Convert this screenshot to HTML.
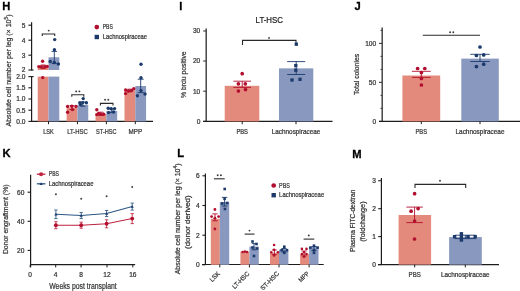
<!DOCTYPE html>
<html><head><meta charset="utf-8"><title>Figure</title>
<style>html,body{margin:0;padding:0;background:#fff;width:520px;height:291px;overflow:hidden}svg{display:block;will-change:transform;filter:blur(0.3px)}text{font-family:"Liberation Sans", sans-serif}</style>
</head><body>
<svg width="520" height="291" viewBox="0 0 520 291" font-family='"Liberation Sans", sans-serif'><text x="2.3" y="10" font-size="11.2" text-anchor="start" fill="#000" font-weight="bold" stroke="#000" stroke-width="0.3">H</text>
<line x1="31.6" y1="22.2" x2="31.6" y2="70.4" stroke="#1c1c1c" stroke-width="1.2"/>
<line x1="28.4" y1="25.2" x2="31.6" y2="25.2" stroke="#1c1c1c" stroke-width="1.1"/>
<text x="25.4" y="27.5" font-size="6.6" text-anchor="end" fill="#333" font-weight="normal" stroke="#333" stroke-width="0.22">5</text>
<line x1="28.4" y1="40.2" x2="31.6" y2="40.2" stroke="#1c1c1c" stroke-width="1.1"/>
<text x="25.4" y="42.5" font-size="6.6" text-anchor="end" fill="#333" font-weight="normal" stroke="#333" stroke-width="0.22">4</text>
<line x1="28.4" y1="55.2" x2="31.6" y2="55.2" stroke="#1c1c1c" stroke-width="1.1"/>
<text x="25.4" y="57.5" font-size="6.6" text-anchor="end" fill="#333" font-weight="normal" stroke="#333" stroke-width="0.22">3</text>
<line x1="28.4" y1="70" x2="31.6" y2="70" stroke="#1c1c1c" stroke-width="1.1"/>
<text x="25.4" y="72.3" font-size="6.6" text-anchor="end" fill="#333" font-weight="normal" stroke="#333" stroke-width="0.22">2</text>
<line x1="31.6" y1="70" x2="33.6" y2="70" stroke="#1c1c1c" stroke-width="1.1"/>
<line x1="31.6" y1="76.2" x2="31.6" y2="122.0" stroke="#1c1c1c" stroke-width="1.2"/>
<line x1="31.6" y1="76.6" x2="33.6" y2="76.6" stroke="#1c1c1c" stroke-width="1.1"/>
<line x1="28.4" y1="76.6" x2="31.6" y2="76.6" stroke="#1c1c1c" stroke-width="1.1"/>
<text x="25.4" y="78.89999999999999" font-size="6.6" text-anchor="end" fill="#333" font-weight="normal" stroke="#333" stroke-width="0.22">2.0</text>
<line x1="28.4" y1="87.8" x2="31.6" y2="87.8" stroke="#1c1c1c" stroke-width="1.1"/>
<text x="25.4" y="90.1" font-size="6.6" text-anchor="end" fill="#333" font-weight="normal" stroke="#333" stroke-width="0.22">1.5</text>
<line x1="28.4" y1="99.0" x2="31.6" y2="99.0" stroke="#1c1c1c" stroke-width="1.1"/>
<text x="25.4" y="101.3" font-size="6.6" text-anchor="end" fill="#333" font-weight="normal" stroke="#333" stroke-width="0.22">1.0</text>
<line x1="28.4" y1="110.2" x2="31.6" y2="110.2" stroke="#1c1c1c" stroke-width="1.1"/>
<text x="25.4" y="112.5" font-size="6.6" text-anchor="end" fill="#333" font-weight="normal" stroke="#333" stroke-width="0.22">0.5</text>
<line x1="28.4" y1="121.4" x2="31.6" y2="121.4" stroke="#1c1c1c" stroke-width="1.1"/>
<text x="25.4" y="123.7" font-size="6.6" text-anchor="end" fill="#333" font-weight="normal" stroke="#333" stroke-width="0.22">0.0</text>
<line x1="31.0" y1="121.4" x2="153" y2="121.4" stroke="#1c1c1c" stroke-width="1.2"/>
<text x="10.6" y="70.5" font-size="7.4" text-anchor="middle" fill="#333" font-weight="normal" stroke="#333" stroke-width="0.22" textLength="112" lengthAdjust="spacingAndGlyphs" transform="rotate(-90 10.6 70.5)">Absolute cell number per leg (× 10<tspan dy="-2.6" font-size="5.2">5</tspan><tspan dy="2.6">)</tspan></text>
<rect x="37.7" y="76.6" width="10.8" height="44.80000000000001" fill="#E48A7C"/>
<rect x="48.5" y="76.6" width="10.8" height="44.80000000000001" fill="#8998BE"/>
<rect x="37.7" y="67.0" width="10.8" height="3.0" fill="#E48A7C"/>
<rect x="48.5" y="57.25" width="10.8" height="12.75" fill="#8998BE"/>
<rect x="66.63000000000001" y="107.512" width="10.8" height="13.888000000000005" fill="#E48A7C"/>
<rect x="77.43" y="104.82400000000001" width="10.8" height="16.575999999999993" fill="#8998BE"/>
<rect x="95.56" y="113.784" width="10.8" height="7.616" fill="#E48A7C"/>
<rect x="106.36" y="110.87200000000001" width="10.8" height="10.527999999999992" fill="#8998BE"/>
<rect x="124.49" y="90.48800000000001" width="10.8" height="30.911999999999992" fill="#E48A7C"/>
<rect x="135.29" y="86.00800000000001" width="10.8" height="35.391999999999996" fill="#8998BE"/>
<line x1="48.5" y1="121.4" x2="48.5" y2="124.2" stroke="#1c1c1c" stroke-width="1.0"/>
<text x="48.5" y="133.7" font-size="6.7" text-anchor="middle" fill="#333" font-weight="normal" stroke="#333" stroke-width="0.22" textLength="10.5" lengthAdjust="spacingAndGlyphs">LSK</text>
<line x1="77.43" y1="121.4" x2="77.43" y2="124.2" stroke="#1c1c1c" stroke-width="1.0"/>
<text x="77.43" y="133.7" font-size="6.7" text-anchor="middle" fill="#333" font-weight="normal" stroke="#333" stroke-width="0.22" textLength="20.6" lengthAdjust="spacingAndGlyphs">LT-HSC</text>
<line x1="106.36" y1="121.4" x2="106.36" y2="124.2" stroke="#1c1c1c" stroke-width="1.0"/>
<text x="106.36" y="133.7" font-size="6.7" text-anchor="middle" fill="#333" font-weight="normal" stroke="#333" stroke-width="0.22" textLength="20.6" lengthAdjust="spacingAndGlyphs">ST-HSC</text>
<line x1="135.29" y1="121.4" x2="135.29" y2="124.2" stroke="#1c1c1c" stroke-width="1.0"/>
<text x="135.29" y="133.7" font-size="6.7" text-anchor="middle" fill="#333" font-weight="normal" stroke="#333" stroke-width="0.22" textLength="13.6" lengthAdjust="spacingAndGlyphs">MPP</text>
<circle cx="38.9" cy="66.6" r="1.7" fill="#B20F2E"/>
<circle cx="41.3" cy="66.8" r="1.7" fill="#B20F2E"/>
<circle cx="45.0" cy="66.6" r="1.7" fill="#B20F2E"/>
<circle cx="47.2" cy="66.4" r="1.7" fill="#B20F2E"/>
<circle cx="42.6" cy="61.2" r="1.7" fill="#B20F2E"/>
<circle cx="42.7" cy="77.6" r="1.7" fill="#B20F2E"/>
<line x1="43.2" y1="65.0" x2="43.2" y2="68.6" stroke="#B20F2E" stroke-width="0.9"/>
<line x1="40.7" y1="65.0" x2="45.7" y2="65.0" stroke="#B20F2E" stroke-width="0.9"/>
<line x1="40.7" y1="68.6" x2="45.7" y2="68.6" stroke="#B20F2E" stroke-width="0.9"/>
<line x1="54.3" y1="51.4" x2="54.3" y2="63.6" stroke="#1B3A6B" stroke-width="0.9"/>
<line x1="51.55" y1="51.4" x2="57.05" y2="51.4" stroke="#1B3A6B" stroke-width="0.9"/>
<line x1="51.55" y1="63.6" x2="57.05" y2="63.6" stroke="#1B3A6B" stroke-width="0.9"/>
<circle cx="54.7" cy="39.6" r="1.7" fill="#1B3A6B"/>
<circle cx="54.4" cy="49.8" r="1.7" fill="#1B3A6B"/>
<circle cx="50.2" cy="61.5" r="1.7" fill="#1B3A6B"/>
<circle cx="58.4" cy="64.0" r="1.7" fill="#1B3A6B"/>
<circle cx="54.3" cy="62.5" r="1.7" fill="#1B3A6B"/>
<circle cx="67.6" cy="106.4" r="1.7" fill="#B20F2E"/>
<circle cx="71.8" cy="106.2" r="1.7" fill="#B20F2E"/>
<circle cx="76.0" cy="106.4" r="1.7" fill="#B20F2E"/>
<circle cx="67.6" cy="112.2" r="1.7" fill="#B20F2E"/>
<circle cx="72.5" cy="109.6" r="1.7" fill="#B20F2E"/>
<line x1="72.03" y1="105.6" x2="72.03" y2="109.6" stroke="#B20F2E" stroke-width="0.9"/>
<line x1="69.53" y1="105.6" x2="74.53" y2="105.6" stroke="#B20F2E" stroke-width="0.9"/>
<line x1="69.53" y1="109.6" x2="74.53" y2="109.6" stroke="#B20F2E" stroke-width="0.9"/>
<circle cx="83.2" cy="98.6" r="1.7" fill="#1B3A6B"/>
<circle cx="79.8" cy="102.8" r="1.7" fill="#1B3A6B"/>
<circle cx="82.8" cy="102.6" r="1.7" fill="#1B3A6B"/>
<circle cx="86.4" cy="102.8" r="1.7" fill="#1B3A6B"/>
<circle cx="80.5" cy="104.6" r="1.7" fill="#1B3A6B"/>
<line x1="82.83000000000001" y1="102.0" x2="82.83000000000001" y2="106.2" stroke="#1B3A6B" stroke-width="0.9"/>
<line x1="80.33000000000001" y1="102.0" x2="85.33000000000001" y2="102.0" stroke="#1B3A6B" stroke-width="0.9"/>
<line x1="80.33000000000001" y1="106.2" x2="85.33000000000001" y2="106.2" stroke="#1B3A6B" stroke-width="0.9"/>
<circle cx="96.8" cy="109.8" r="1.7" fill="#B20F2E"/>
<circle cx="96.8" cy="114.6" r="1.7" fill="#B20F2E"/>
<circle cx="100.4" cy="114.2" r="1.7" fill="#B20F2E"/>
<circle cx="103.6" cy="114.2" r="1.7" fill="#B20F2E"/>
<circle cx="98.5" cy="113.5" r="1.7" fill="#B20F2E"/>
<line x1="100.96" y1="112.2" x2="100.96" y2="115.4" stroke="#B20F2E" stroke-width="0.9"/>
<line x1="98.46" y1="112.2" x2="103.46" y2="112.2" stroke="#B20F2E" stroke-width="0.9"/>
<line x1="98.46" y1="115.4" x2="103.46" y2="115.4" stroke="#B20F2E" stroke-width="0.9"/>
<circle cx="108.2" cy="108.2" r="1.7" fill="#1B3A6B"/>
<circle cx="111.2" cy="108.8" r="1.7" fill="#1B3A6B"/>
<circle cx="114.6" cy="108.6" r="1.7" fill="#1B3A6B"/>
<circle cx="108.6" cy="112.6" r="1.7" fill="#1B3A6B"/>
<circle cx="113.6" cy="112.0" r="1.7" fill="#1B3A6B"/>
<line x1="111.76" y1="109.0" x2="111.76" y2="112.6" stroke="#1B3A6B" stroke-width="0.9"/>
<line x1="109.26" y1="109.0" x2="114.26" y2="109.0" stroke="#1B3A6B" stroke-width="0.9"/>
<line x1="109.26" y1="112.6" x2="114.26" y2="112.6" stroke="#1B3A6B" stroke-width="0.9"/>
<circle cx="125.6" cy="90.0" r="1.7" fill="#B20F2E"/>
<circle cx="128.4" cy="91.0" r="1.7" fill="#B20F2E"/>
<circle cx="131.6" cy="90.4" r="1.7" fill="#B20F2E"/>
<circle cx="133.8" cy="88.8" r="1.7" fill="#B20F2E"/>
<circle cx="125.6" cy="93.6" r="1.7" fill="#B20F2E"/>
<line x1="129.89" y1="89.2" x2="129.89" y2="91.8" stroke="#B20F2E" stroke-width="0.9"/>
<line x1="127.38999999999999" y1="89.2" x2="132.39" y2="89.2" stroke="#B20F2E" stroke-width="0.9"/>
<line x1="127.38999999999999" y1="91.8" x2="132.39" y2="91.8" stroke="#B20F2E" stroke-width="0.9"/>
<circle cx="141.0" cy="64.2" r="1.7" fill="#1B3A6B"/>
<circle cx="141.0" cy="77.8" r="1.7" fill="#1B3A6B"/>
<circle cx="137.4" cy="95.8" r="1.7" fill="#1B3A6B"/>
<circle cx="145.0" cy="94.0" r="1.7" fill="#1B3A6B"/>
<circle cx="141.0" cy="90.6" r="1.7" fill="#1B3A6B"/>
<line x1="140.69" y1="79.2" x2="140.69" y2="92.6" stroke="#1B3A6B" stroke-width="0.9"/>
<line x1="137.69" y1="79.2" x2="143.69" y2="79.2" stroke="#1B3A6B" stroke-width="0.9"/>
<line x1="137.69" y1="92.6" x2="143.69" y2="92.6" stroke="#1B3A6B" stroke-width="0.9"/>
<path d="M42.3 36.0 V34.0 H54.7 V36.0" fill="none" stroke="#2a2a2a" stroke-width="1.1"/>
<circle cx="48.7" cy="30.6" r="0.95" fill="#3a3a3a"/>
<path d="M71.8 96.7 V94.7 H83.8 V96.7" fill="none" stroke="#2a2a2a" stroke-width="1.1"/>
<circle cx="76.2" cy="91.4" r="0.95" fill="#3a3a3a"/>
<circle cx="79.39999999999999" cy="91.4" r="0.95" fill="#3a3a3a"/>
<path d="M100.4 105.4 V103.4 H113.0 V105.4" fill="none" stroke="#2a2a2a" stroke-width="1.1"/>
<circle cx="105.10000000000001" cy="99.8" r="0.95" fill="#3a3a3a"/>
<circle cx="108.3" cy="99.8" r="0.95" fill="#3a3a3a"/>
<circle cx="96.8" cy="27.1" r="2.35" fill="#B20F2E"/>
<text x="102.7" y="29.3" font-size="6.6" text-anchor="start" fill="#333" font-weight="normal" stroke="#333" stroke-width="0.22" textLength="10.1" lengthAdjust="spacingAndGlyphs">PBS</text>
<rect x="94.6" y="34.8" width="4.4" height="4.4" fill="#1B3A6B"/>
<text x="102.8" y="39.1" font-size="6.6" text-anchor="start" fill="#333" font-weight="normal" stroke="#333" stroke-width="0.22" textLength="44.3" lengthAdjust="spacingAndGlyphs">Lachnospiraceae</text>
<text x="179.2" y="10" font-size="11.2" text-anchor="start" fill="#000" font-weight="bold" stroke="#000" stroke-width="0.3">I</text>
<line x1="206.2" y1="28.6" x2="206.2" y2="121.4" stroke="#3a3a3a" stroke-width="1.4"/>
<line x1="203.2" y1="31" x2="206.2" y2="31" stroke="#3a3a3a" stroke-width="1.1"/>
<text x="200.3" y="33.3" font-size="6.6" text-anchor="end" fill="#333" font-weight="normal" stroke="#333" stroke-width="0.22">30</text>
<line x1="203.2" y1="61" x2="206.2" y2="61" stroke="#3a3a3a" stroke-width="1.1"/>
<text x="200.3" y="63.3" font-size="6.6" text-anchor="end" fill="#333" font-weight="normal" stroke="#333" stroke-width="0.22">20</text>
<line x1="203.2" y1="91.2" x2="206.2" y2="91.2" stroke="#3a3a3a" stroke-width="1.1"/>
<text x="200.3" y="93.5" font-size="6.6" text-anchor="end" fill="#333" font-weight="normal" stroke="#333" stroke-width="0.22">10</text>
<line x1="203.2" y1="121.4" x2="206.2" y2="121.4" stroke="#3a3a3a" stroke-width="1.1"/>
<text x="200.3" y="123.7" font-size="6.6" text-anchor="end" fill="#333" font-weight="normal" stroke="#333" stroke-width="0.22">0</text>
<line x1="203.1" y1="121.3" x2="332.5" y2="121.3" stroke="#1c1c1c" stroke-width="1.2"/>
<text x="186.2" y="74.7" font-size="6.9" text-anchor="middle" fill="#333" font-weight="normal" stroke="#333" stroke-width="0.22" textLength="46.7" lengthAdjust="spacingAndGlyphs" transform="rotate(-90 186.2 74.7)">% brdu positive</text>
<text x="269.3" y="23.1" font-size="8.4" text-anchor="middle" fill="#222" font-weight="normal" stroke="#222" stroke-width="0.22" textLength="27.4" lengthAdjust="spacingAndGlyphs">LT-HSC</text>
<rect x="224.7" y="85.8" width="34.6" height="35.60000000000001" fill="#E48A7C"/>
<rect x="279" y="68.3712" width="34.3" height="53.028800000000004" fill="#8998BE"/>
<line x1="242.2" y1="121.3" x2="242.2" y2="124.2" stroke="#1c1c1c" stroke-width="1.0"/>
<text x="242.2" y="133.5" font-size="6.7" text-anchor="middle" fill="#333" font-weight="normal" stroke="#333" stroke-width="0.22" textLength="11.6" lengthAdjust="spacingAndGlyphs">PBS</text>
<line x1="296.0" y1="121.3" x2="296.0" y2="124.2" stroke="#1c1c1c" stroke-width="1.0"/>
<text x="296.0" y="133.5" font-size="6.7" text-anchor="middle" fill="#333" font-weight="normal" stroke="#333" stroke-width="0.22" textLength="48.5" lengthAdjust="spacingAndGlyphs">Lachnospiraceae</text>
<path d="M242.5 44.9 V40.4 H296.0 V44.9" fill="none" stroke="#2a2a2a" stroke-width="1.1"/>
<circle cx="269" cy="37.9" r="0.95" fill="#3a3a3a"/>
<line x1="242.2" y1="81.2" x2="242.2" y2="87.4" stroke="#B20F2E" stroke-width="0.9"/>
<line x1="233.39999999999998" y1="81.2" x2="251.0" y2="81.2" stroke="#B20F2E" stroke-width="0.9"/>
<line x1="233.39999999999998" y1="87.4" x2="251.0" y2="87.4" stroke="#B20F2E" stroke-width="0.9"/>
<circle cx="242.2" cy="73.7" r="1.85" fill="#B20F2E"/>
<circle cx="238.4" cy="83.8" r="1.85" fill="#B20F2E"/>
<circle cx="245.3" cy="83.8" r="1.85" fill="#B20F2E"/>
<circle cx="238.4" cy="91.0" r="1.85" fill="#B20F2E"/>
<circle cx="245.5" cy="89.6" r="1.85" fill="#B20F2E"/>
<line x1="296.2" y1="61.6" x2="296.2" y2="74.5" stroke="#1B3A6B" stroke-width="0.9"/>
<line x1="287.2" y1="61.6" x2="305.2" y2="61.6" stroke="#1B3A6B" stroke-width="0.9"/>
<line x1="287.2" y1="74.5" x2="305.2" y2="74.5" stroke="#1B3A6B" stroke-width="0.9"/>
<rect x="294.65000000000003" y="42.550000000000004" width="3.3" height="3.3" fill="#1B3A6B"/>
<rect x="294.15000000000003" y="63.949999999999996" width="3.3" height="3.3" fill="#1B3A6B"/>
<rect x="294.15000000000003" y="68.55" width="3.3" height="3.3" fill="#1B3A6B"/>
<rect x="290.35" y="78.35" width="3.3" height="3.3" fill="#1B3A6B"/>
<rect x="298.35" y="77.64999999999999" width="3.3" height="3.3" fill="#1B3A6B"/>
<text x="354.6" y="10.2" font-size="11.2" text-anchor="start" fill="#000" font-weight="bold" stroke="#000" stroke-width="0.3">J</text>
<line x1="382.2" y1="27.4" x2="382.2" y2="121.4" stroke="#3a3a3a" stroke-width="1.4"/>
<line x1="379.0" y1="121.4" x2="382.2" y2="121.4" stroke="#3a3a3a" stroke-width="1.1"/>
<line x1="380.6" y1="108.4" x2="382.2" y2="108.4" stroke="#3a3a3a" stroke-width="1.1"/>
<line x1="380.6" y1="95.4" x2="382.2" y2="95.4" stroke="#3a3a3a" stroke-width="1.1"/>
<line x1="379.0" y1="82.4" x2="382.2" y2="82.4" stroke="#3a3a3a" stroke-width="1.1"/>
<line x1="380.6" y1="69.4" x2="382.2" y2="69.4" stroke="#3a3a3a" stroke-width="1.1"/>
<line x1="380.6" y1="56.400000000000006" x2="382.2" y2="56.400000000000006" stroke="#3a3a3a" stroke-width="1.1"/>
<line x1="379.0" y1="43.400000000000006" x2="382.2" y2="43.400000000000006" stroke="#3a3a3a" stroke-width="1.1"/>
<line x1="380.6" y1="30.400000000000006" x2="382.2" y2="30.400000000000006" stroke="#3a3a3a" stroke-width="1.1"/>
<text x="376.2" y="45.5" font-size="6.6" text-anchor="end" fill="#333" font-weight="normal" stroke="#333" stroke-width="0.22">100</text>
<text x="376.2" y="84.6" font-size="6.6" text-anchor="end" fill="#333" font-weight="normal" stroke="#333" stroke-width="0.22">50</text>
<text x="376.2" y="123.7" font-size="6.6" text-anchor="end" fill="#333" font-weight="normal" stroke="#333" stroke-width="0.22">0</text>
<line x1="379" y1="121.4" x2="520" y2="121.4" stroke="#1c1c1c" stroke-width="1.2"/>
<text x="359.3" y="74.5" font-size="7.0" text-anchor="middle" fill="#333" font-weight="normal" stroke="#333" stroke-width="0.22" textLength="41.2" lengthAdjust="spacingAndGlyphs" transform="rotate(-90 359.3 74.5)">Total colonies</text>
<rect x="402.4" y="75.5" width="37.8" height="45.900000000000006" fill="#E48A7C"/>
<rect x="461.3" y="58.6" width="37.5" height="62.800000000000004" fill="#8998BE"/>
<line x1="421.3" y1="121.4" x2="421.3" y2="124.1" stroke="#1c1c1c" stroke-width="1.0"/>
<text x="421.3" y="133.8" font-size="6.7" text-anchor="middle" fill="#333" font-weight="normal" stroke="#333" stroke-width="0.22" textLength="11.6" lengthAdjust="spacingAndGlyphs">PBS</text>
<line x1="480.0" y1="121.4" x2="480.0" y2="124.1" stroke="#1c1c1c" stroke-width="1.0"/>
<text x="480.0" y="133.8" font-size="6.7" text-anchor="middle" fill="#333" font-weight="normal" stroke="#333" stroke-width="0.22" textLength="49" lengthAdjust="spacingAndGlyphs">Lachnospiraceae</text>
<line x1="422.8" y1="35.3" x2="480" y2="35.3" stroke="#2a2a2a" stroke-width="1.1"/>
<circle cx="450.09999999999997" cy="32.2" r="0.95" fill="#3a3a3a"/>
<circle cx="453.3" cy="32.2" r="0.95" fill="#3a3a3a"/>
<line x1="421.3" y1="71.3" x2="421.3" y2="77.4" stroke="#B20F2E" stroke-width="0.9"/>
<line x1="411.90000000000003" y1="71.3" x2="430.7" y2="71.3" stroke="#B20F2E" stroke-width="0.9"/>
<line x1="411.90000000000003" y1="77.4" x2="430.7" y2="77.4" stroke="#B20F2E" stroke-width="0.9"/>
<circle cx="417.6" cy="68.5" r="1.85" fill="#B20F2E"/>
<circle cx="424.8" cy="68.5" r="1.85" fill="#B20F2E"/>
<circle cx="421.4" cy="72.6" r="1.85" fill="#B20F2E"/>
<circle cx="421.4" cy="78.4" r="1.85" fill="#B20F2E"/>
<circle cx="421.4" cy="85.0" r="1.85" fill="#B20F2E"/>
<line x1="480" y1="54.3" x2="480" y2="61.5" stroke="#1B3A6B" stroke-width="0.9"/>
<line x1="470.25" y1="54.3" x2="489.75" y2="54.3" stroke="#1B3A6B" stroke-width="0.9"/>
<line x1="470.25" y1="61.5" x2="489.75" y2="61.5" stroke="#1B3A6B" stroke-width="0.9"/>
<circle cx="480" cy="47" r="1.85" fill="#1B3A6B"/>
<circle cx="476.4" cy="55.5" r="1.85" fill="#1B3A6B"/>
<circle cx="483.7" cy="54.9" r="1.85" fill="#1B3A6B"/>
<circle cx="476.4" cy="66.6" r="1.85" fill="#1B3A6B"/>
<circle cx="483.7" cy="64.2" r="1.85" fill="#1B3A6B"/>
<text x="2.4" y="157.2" font-size="11.2" text-anchor="start" fill="#000" font-weight="bold" stroke="#000" stroke-width="0.3">K</text>
<line x1="30.6" y1="174.8" x2="30.6" y2="267.2" stroke="#1c1c1c" stroke-width="1.2"/>
<line x1="27.6" y1="192.2" x2="30.6" y2="192.2" stroke="#1c1c1c" stroke-width="1.1"/>
<text x="24.4" y="194.5" font-size="6.6" text-anchor="end" fill="#333" font-weight="normal" stroke="#333" stroke-width="0.22">60</text>
<line x1="27.6" y1="221.3" x2="30.6" y2="221.3" stroke="#1c1c1c" stroke-width="1.1"/>
<text x="24.4" y="223.60000000000002" font-size="6.6" text-anchor="end" fill="#333" font-weight="normal" stroke="#333" stroke-width="0.22">40</text>
<line x1="27.6" y1="250.4" x2="30.6" y2="250.4" stroke="#1c1c1c" stroke-width="1.1"/>
<text x="24.4" y="252.70000000000002" font-size="6.6" text-anchor="end" fill="#333" font-weight="normal" stroke="#333" stroke-width="0.22">20</text>
<line x1="30.0" y1="264.7" x2="135.1" y2="264.7" stroke="#1c1c1c" stroke-width="1.2"/>
<line x1="30.2" y1="264.7" x2="30.2" y2="267.4" stroke="#1c1c1c" stroke-width="1.0"/>
<text x="30.2" y="277.0" font-size="6.6" text-anchor="middle" fill="#333" font-weight="normal" stroke="#333" stroke-width="0.22">0</text>
<line x1="55.7" y1="264.7" x2="55.7" y2="267.4" stroke="#1c1c1c" stroke-width="1.0"/>
<text x="55.7" y="277.0" font-size="6.6" text-anchor="middle" fill="#333" font-weight="normal" stroke="#333" stroke-width="0.22">4</text>
<line x1="81.1" y1="264.7" x2="81.1" y2="267.4" stroke="#1c1c1c" stroke-width="1.0"/>
<text x="81.1" y="277.0" font-size="6.6" text-anchor="middle" fill="#333" font-weight="normal" stroke="#333" stroke-width="0.22">8</text>
<line x1="107" y1="264.7" x2="107" y2="267.4" stroke="#1c1c1c" stroke-width="1.0"/>
<text x="107" y="277.0" font-size="6.6" text-anchor="middle" fill="#333" font-weight="normal" stroke="#333" stroke-width="0.22">12</text>
<line x1="132.8" y1="264.7" x2="132.8" y2="267.4" stroke="#1c1c1c" stroke-width="1.0"/>
<text x="132.8" y="277.0" font-size="6.6" text-anchor="middle" fill="#333" font-weight="normal" stroke="#333" stroke-width="0.22">16</text>
<text x="83" y="288.7" font-size="8.5" text-anchor="middle" fill="#333" font-weight="normal" stroke="#333" stroke-width="0.22" textLength="67.5" lengthAdjust="spacingAndGlyphs">Weeks post transplant</text>
<text x="8.5" y="219.3" font-size="7.2" text-anchor="middle" fill="#333" font-weight="normal" stroke="#333" stroke-width="0.22" textLength="69.6" lengthAdjust="spacingAndGlyphs" transform="rotate(-90 8.5 219.3)">Donor engraftment (%)</text>
<polyline points="55.9,225.2 81.2,225.2 106.6,223.8 132.2,218.6" fill="none" stroke="#C0213D" stroke-width="1.05"/>
<polyline points="55.9,214.3 81.2,215.5 106.6,213.5 132.2,206.6" fill="none" stroke="#2A5784" stroke-width="1.05"/>
<line x1="55.9" y1="221.7" x2="55.9" y2="228.7" stroke="#C0213D" stroke-width="0.85"/>
<line x1="54.25" y1="221.7" x2="57.55" y2="221.7" stroke="#C0213D" stroke-width="0.85"/>
<line x1="54.25" y1="228.7" x2="57.55" y2="228.7" stroke="#C0213D" stroke-width="0.85"/>
<circle cx="55.9" cy="225.2" r="1.95" fill="#B20F2E"/>
<line x1="81.2" y1="222.2" x2="81.2" y2="228.2" stroke="#C0213D" stroke-width="0.85"/>
<line x1="79.55" y1="222.2" x2="82.85000000000001" y2="222.2" stroke="#C0213D" stroke-width="0.85"/>
<line x1="79.55" y1="228.2" x2="82.85000000000001" y2="228.2" stroke="#C0213D" stroke-width="0.85"/>
<circle cx="81.2" cy="225.2" r="1.95" fill="#B20F2E"/>
<line x1="106.6" y1="219.8" x2="106.6" y2="227.8" stroke="#C0213D" stroke-width="0.85"/>
<line x1="104.94999999999999" y1="219.8" x2="108.25" y2="219.8" stroke="#C0213D" stroke-width="0.85"/>
<line x1="104.94999999999999" y1="227.8" x2="108.25" y2="227.8" stroke="#C0213D" stroke-width="0.85"/>
<circle cx="106.6" cy="223.8" r="1.95" fill="#B20F2E"/>
<line x1="132.2" y1="213.6" x2="132.2" y2="223.6" stroke="#C0213D" stroke-width="0.85"/>
<line x1="130.54999999999998" y1="213.6" x2="133.85" y2="213.6" stroke="#C0213D" stroke-width="0.85"/>
<line x1="130.54999999999998" y1="223.6" x2="133.85" y2="223.6" stroke="#C0213D" stroke-width="0.85"/>
<circle cx="132.2" cy="218.6" r="1.95" fill="#B20F2E"/>
<line x1="55.9" y1="210.0" x2="55.9" y2="218.60000000000002" stroke="#2A5784" stroke-width="0.85"/>
<line x1="54.25" y1="210.0" x2="57.55" y2="210.0" stroke="#2A5784" stroke-width="0.85"/>
<line x1="54.25" y1="218.60000000000002" x2="57.55" y2="218.60000000000002" stroke="#2A5784" stroke-width="0.85"/>
<path d="M54.3 215.5 L55.9 212.70000000000002 L57.5 215.5Z" fill="#1B3A6B"/>
<line x1="81.2" y1="212.5" x2="81.2" y2="218.5" stroke="#2A5784" stroke-width="0.85"/>
<line x1="79.55" y1="212.5" x2="82.85000000000001" y2="212.5" stroke="#2A5784" stroke-width="0.85"/>
<line x1="79.55" y1="218.5" x2="82.85000000000001" y2="218.5" stroke="#2A5784" stroke-width="0.85"/>
<path d="M79.60000000000001 216.7 L81.2 213.9 L82.8 216.7Z" fill="#1B3A6B"/>
<line x1="106.6" y1="210.5" x2="106.6" y2="216.5" stroke="#2A5784" stroke-width="0.85"/>
<line x1="104.94999999999999" y1="210.5" x2="108.25" y2="210.5" stroke="#2A5784" stroke-width="0.85"/>
<line x1="104.94999999999999" y1="216.5" x2="108.25" y2="216.5" stroke="#2A5784" stroke-width="0.85"/>
<path d="M105.0 214.7 L106.6 211.9 L108.19999999999999 214.7Z" fill="#1B3A6B"/>
<line x1="132.2" y1="203.1" x2="132.2" y2="210.1" stroke="#2A5784" stroke-width="0.85"/>
<line x1="130.54999999999998" y1="203.1" x2="133.85" y2="203.1" stroke="#2A5784" stroke-width="0.85"/>
<line x1="130.54999999999998" y1="210.1" x2="133.85" y2="210.1" stroke="#2A5784" stroke-width="0.85"/>
<path d="M130.6 207.79999999999998 L132.2 205.0 L133.79999999999998 207.79999999999998Z" fill="#1B3A6B"/>
<circle cx="55.9" cy="194.3" r="0.95" fill="#3a3a3a"/>
<circle cx="81.2" cy="198.8" r="0.95" fill="#3a3a3a"/>
<circle cx="106.6" cy="196.3" r="0.95" fill="#3a3a3a"/>
<circle cx="132.2" cy="187" r="0.95" fill="#3a3a3a"/>
<line x1="36.9" y1="174.2" x2="45.4" y2="174.2" stroke="#C0213D" stroke-width="1.3"/>
<circle cx="41.1" cy="174.2" r="2.0" fill="#C0213D"/>
<text x="48.8" y="176.0" font-size="6.4" text-anchor="start" fill="#333" font-weight="normal" stroke="#333" stroke-width="0.22" textLength="10.2" lengthAdjust="spacingAndGlyphs">PBS</text>
<line x1="36.9" y1="183.8" x2="45.4" y2="183.8" stroke="#2A5784" stroke-width="1.3"/>
<path d="M39.5 185.0 L41.1 182.20000000000002 L42.7 185.0Z" fill="#1B3A6B"/>
<text x="48.8" y="186.0" font-size="6.4" text-anchor="start" fill="#333" font-weight="normal" stroke="#333" stroke-width="0.22" textLength="44.6" lengthAdjust="spacingAndGlyphs">Lachnospiraceae</text>
<text x="177.2" y="157.4" font-size="11.2" text-anchor="start" fill="#000" font-weight="bold" stroke="#000" stroke-width="0.3">L</text>
<line x1="205.4" y1="173.4" x2="205.4" y2="264.5" stroke="#1c1c1c" stroke-width="1.2"/>
<line x1="202.4" y1="175.8" x2="205.4" y2="175.8" stroke="#1c1c1c" stroke-width="1.1"/>
<text x="199.6" y="178.10000000000002" font-size="6.6" text-anchor="end" fill="#333" font-weight="normal" stroke="#333" stroke-width="0.22">6</text>
<line x1="202.4" y1="205.5" x2="205.4" y2="205.5" stroke="#1c1c1c" stroke-width="1.1"/>
<text x="199.6" y="207.8" font-size="6.6" text-anchor="end" fill="#333" font-weight="normal" stroke="#333" stroke-width="0.22">4</text>
<line x1="202.4" y1="235.2" x2="205.4" y2="235.2" stroke="#1c1c1c" stroke-width="1.1"/>
<text x="199.6" y="237.5" font-size="6.6" text-anchor="end" fill="#333" font-weight="normal" stroke="#333" stroke-width="0.22">2</text>
<line x1="202.4" y1="264.8" x2="205.4" y2="264.8" stroke="#1c1c1c" stroke-width="1.1"/>
<text x="199.6" y="267.1" font-size="6.6" text-anchor="end" fill="#333" font-weight="normal" stroke="#333" stroke-width="0.22">0</text>
<line x1="202.0" y1="264.5" x2="323.7" y2="264.5" stroke="#1c1c1c" stroke-width="1.2"/>
<text x="179.8" y="218.9" font-size="6.9" text-anchor="middle" fill="#333" font-weight="normal" stroke="#333" stroke-width="0.22" textLength="110.8" lengthAdjust="spacingAndGlyphs" transform="rotate(-90 179.8 218.9)">Absolute cell number per leg (× 10<tspan dy="-2.4" font-size="4.9">4</tspan><tspan dy="2.4">)</tspan></text>
<text x="190.4" y="222.2" font-size="6.9" text-anchor="middle" fill="#333" font-weight="normal" stroke="#333" stroke-width="0.22" textLength="53.5" lengthAdjust="spacingAndGlyphs" transform="rotate(-90 190.4 222.2)">(donor derived)</text>
<rect x="210.8" y="218.8" width="9.0" height="46.0" fill="#E48A7C"/>
<rect x="219.8" y="202.0" width="9.4" height="62.80000000000001" fill="#8998BE"/>
<line x1="219.8" y1="264.5" x2="219.8" y2="267.4" stroke="#1c1c1c" stroke-width="1.0"/>
<rect x="240.4" y="251.6" width="9.0" height="13.200000000000017" fill="#E48A7C"/>
<rect x="249.4" y="246.6" width="9.4" height="18.200000000000017" fill="#8998BE"/>
<line x1="249.4" y1="264.5" x2="249.4" y2="267.4" stroke="#1c1c1c" stroke-width="1.0"/>
<rect x="270.0" y="252.8" width="9.0" height="12.0" fill="#E48A7C"/>
<rect x="279.0" y="249.6" width="9.4" height="15.200000000000017" fill="#8998BE"/>
<line x1="279.0" y1="264.5" x2="279.0" y2="267.4" stroke="#1c1c1c" stroke-width="1.0"/>
<rect x="300.1" y="254.1" width="9.0" height="10.700000000000017" fill="#E48A7C"/>
<rect x="309.1" y="247.0" width="9.4" height="17.80000000000001" fill="#8998BE"/>
<line x1="309.1" y1="264.5" x2="309.1" y2="267.4" stroke="#1c1c1c" stroke-width="1.0"/>
<text x="220.3" y="274.1" font-size="6.4" text-anchor="end" fill="#333" stroke="#333" stroke-width="0.22" textLength="11.5" lengthAdjust="spacingAndGlyphs" transform="rotate(-45 220.3 274.1)">LSK</text>
<text x="249.9" y="274.1" font-size="6.4" text-anchor="end" fill="#333" stroke="#333" stroke-width="0.22" textLength="21.5" lengthAdjust="spacingAndGlyphs" transform="rotate(-45 249.9 274.1)">LT-HSC</text>
<text x="279.5" y="274.1" font-size="6.4" text-anchor="end" fill="#333" stroke="#333" stroke-width="0.22" textLength="23.5" lengthAdjust="spacingAndGlyphs" transform="rotate(-45 279.5 274.1)">ST-HSC</text>
<text x="309.6" y="274.1" font-size="6.4" text-anchor="end" fill="#333" stroke="#333" stroke-width="0.22" textLength="12.0" lengthAdjust="spacingAndGlyphs" transform="rotate(-45 309.6 274.1)">MPP</text>
<line x1="213.9" y1="178.8" x2="224.7" y2="178.8" stroke="#2a2a2a" stroke-width="1.1"/>
<circle cx="217.70000000000002" cy="175.2" r="0.95" fill="#3a3a3a"/>
<circle cx="220.9" cy="175.2" r="0.95" fill="#3a3a3a"/>
<line x1="244.6" y1="234.1" x2="254.5" y2="234.1" stroke="#2a2a2a" stroke-width="1.1"/>
<circle cx="249.5" cy="230.6" r="0.95" fill="#3a3a3a"/>
<line x1="303.6" y1="239.1" x2="314.3" y2="239.1" stroke="#2a2a2a" stroke-width="1.1"/>
<circle cx="308.8" cy="235.5" r="0.95" fill="#3a3a3a"/>
<line x1="215.0" y1="213.9" x2="215.0" y2="220.8" stroke="#B20F2E" stroke-width="0.9"/>
<line x1="212.25" y1="213.9" x2="217.75" y2="213.9" stroke="#B20F2E" stroke-width="0.9"/>
<line x1="212.25" y1="220.8" x2="217.75" y2="220.8" stroke="#B20F2E" stroke-width="0.9"/>
<circle cx="214.9" cy="209.5" r="1.4" fill="#B20F2E"/>
<circle cx="211.6" cy="216.6" r="1.4" fill="#B20F2E"/>
<circle cx="218.6" cy="216.6" r="1.4" fill="#B20F2E"/>
<circle cx="214.9" cy="218.2" r="1.4" fill="#B20F2E"/>
<circle cx="214.9" cy="229.0" r="1.4" fill="#B20F2E"/>
<line x1="224.6" y1="197.4" x2="224.6" y2="206.0" stroke="#1B3A6B" stroke-width="0.9"/>
<line x1="221.85" y1="197.4" x2="227.35" y2="197.4" stroke="#1B3A6B" stroke-width="0.9"/>
<line x1="221.85" y1="206.0" x2="227.35" y2="206.0" stroke="#1B3A6B" stroke-width="0.9"/>
<rect x="223.39999999999998" y="187.7" width="2.6" height="2.6" fill="#1B3A6B"/>
<rect x="223.29999999999998" y="197.5" width="2.6" height="2.6" fill="#1B3A6B"/>
<rect x="223.6" y="207.7" width="2.6" height="2.6" fill="#1B3A6B"/>
<rect x="220.89999999999998" y="202.2" width="2.6" height="2.6" fill="#1B3A6B"/>
<rect x="225.89999999999998" y="201.7" width="2.6" height="2.6" fill="#1B3A6B"/>
<circle cx="242.6" cy="252.0" r="1.3" fill="#B20F2E"/>
<circle cx="244.8" cy="251.6" r="1.3" fill="#B20F2E"/>
<circle cx="247.0" cy="252.0" r="1.3" fill="#B20F2E"/>
<line x1="254.0" y1="243.6" x2="254.0" y2="249.8" stroke="#1B3A6B" stroke-width="0.9"/>
<line x1="251.75" y1="243.6" x2="256.25" y2="243.6" stroke="#1B3A6B" stroke-width="0.9"/>
<line x1="251.75" y1="249.8" x2="256.25" y2="249.8" stroke="#1B3A6B" stroke-width="0.9"/>
<rect x="251.2" y="240.2" width="2.6" height="2.6" fill="#1B3A6B"/>
<rect x="255.2" y="242.7" width="2.6" height="2.6" fill="#1B3A6B"/>
<rect x="251.2" y="246.2" width="2.6" height="2.6" fill="#1B3A6B"/>
<rect x="255.7" y="247.2" width="2.6" height="2.6" fill="#1B3A6B"/>
<rect x="252.7" y="254.7" width="2.6" height="2.6" fill="#1B3A6B"/>
<line x1="274.4" y1="250.0" x2="274.4" y2="254.6" stroke="#B20F2E" stroke-width="0.9"/>
<line x1="271.9" y1="250.0" x2="276.9" y2="250.0" stroke="#B20F2E" stroke-width="0.9"/>
<line x1="271.9" y1="254.6" x2="276.9" y2="254.6" stroke="#B20F2E" stroke-width="0.9"/>
<circle cx="274.1" cy="245.0" r="1.3" fill="#B20F2E"/>
<circle cx="271.3" cy="252.2" r="1.3" fill="#B20F2E"/>
<circle cx="277.9" cy="252.2" r="1.3" fill="#B20F2E"/>
<circle cx="274.1" cy="249.8" r="1.3" fill="#B20F2E"/>
<circle cx="274.1" cy="255.5" r="1.3" fill="#B20F2E"/>
<line x1="284.0" y1="248.5" x2="284.0" y2="252.0" stroke="#1B3A6B" stroke-width="0.9"/>
<line x1="281.5" y1="248.5" x2="286.5" y2="248.5" stroke="#1B3A6B" stroke-width="0.9"/>
<line x1="281.5" y1="252.0" x2="286.5" y2="252.0" stroke="#1B3A6B" stroke-width="0.9"/>
<rect x="283.0" y="245.39999999999998" width="2.6" height="2.6" fill="#1B3A6B"/>
<rect x="280.4" y="248.89999999999998" width="2.6" height="2.6" fill="#1B3A6B"/>
<rect x="285.59999999999997" y="248.89999999999998" width="2.6" height="2.6" fill="#1B3A6B"/>
<rect x="283.0" y="251.5" width="2.6" height="2.6" fill="#1B3A6B"/>
<line x1="304.1" y1="251.0" x2="304.1" y2="256.0" stroke="#B20F2E" stroke-width="0.9"/>
<line x1="301.6" y1="251.0" x2="306.6" y2="251.0" stroke="#B20F2E" stroke-width="0.9"/>
<line x1="301.6" y1="256.0" x2="306.6" y2="256.0" stroke="#B20F2E" stroke-width="0.9"/>
<circle cx="301.9" cy="248.9" r="1.3" fill="#B20F2E"/>
<circle cx="306.5" cy="248.9" r="1.3" fill="#B20F2E"/>
<circle cx="304.1" cy="252.2" r="1.3" fill="#B20F2E"/>
<circle cx="301.9" cy="254.1" r="1.3" fill="#B20F2E"/>
<circle cx="306.5" cy="254.1" r="1.3" fill="#B20F2E"/>
<circle cx="304.1" cy="256.8" r="1.3" fill="#B20F2E"/>
<line x1="314.0" y1="246.5" x2="314.0" y2="250.5" stroke="#1B3A6B" stroke-width="0.9"/>
<line x1="311.5" y1="246.5" x2="316.5" y2="246.5" stroke="#1B3A6B" stroke-width="0.9"/>
<line x1="311.5" y1="250.5" x2="316.5" y2="250.5" stroke="#1B3A6B" stroke-width="0.9"/>
<rect x="312.7" y="244.39999999999998" width="2.6" height="2.6" fill="#1B3A6B"/>
<rect x="309.09999999999997" y="246.29999999999998" width="2.6" height="2.6" fill="#1B3A6B"/>
<rect x="316.3" y="246.29999999999998" width="2.6" height="2.6" fill="#1B3A6B"/>
<rect x="312.7" y="248.89999999999998" width="2.6" height="2.6" fill="#1B3A6B"/>
<rect x="312.7" y="251.5" width="2.6" height="2.6" fill="#1B3A6B"/>
<circle cx="273.7" cy="185.5" r="2.35" fill="#B20F2E"/>
<text x="279.1" y="187.6" font-size="6.6" text-anchor="start" fill="#333" font-weight="normal" stroke="#333" stroke-width="0.22" textLength="10.8" lengthAdjust="spacingAndGlyphs">PBS</text>
<rect x="271.5" y="193.0" width="4.4" height="4.4" fill="#1B3A6B"/>
<text x="279.1" y="197.4" font-size="6.6" text-anchor="start" fill="#333" font-weight="normal" stroke="#333" stroke-width="0.22" textLength="45.1" lengthAdjust="spacingAndGlyphs">Lachnospiraceae</text>
<text x="352.3" y="157.6" font-size="11.2" text-anchor="start" fill="#000" font-weight="bold" stroke="#000" stroke-width="0.3">M</text>
<line x1="381.4" y1="178.1" x2="381.4" y2="264.6" stroke="#1c1c1c" stroke-width="1.2"/>
<line x1="378.2" y1="180.7" x2="381.4" y2="180.7" stroke="#1c1c1c" stroke-width="1.1"/>
<text x="376.0" y="183.0" font-size="6.6" text-anchor="end" fill="#333" font-weight="normal" stroke="#333" stroke-width="0.22">3</text>
<line x1="378.2" y1="208.7" x2="381.4" y2="208.7" stroke="#1c1c1c" stroke-width="1.1"/>
<text x="376.0" y="211.0" font-size="6.6" text-anchor="end" fill="#333" font-weight="normal" stroke="#333" stroke-width="0.22">2</text>
<line x1="378.2" y1="236.6" x2="381.4" y2="236.6" stroke="#1c1c1c" stroke-width="1.1"/>
<text x="376.0" y="238.9" font-size="6.6" text-anchor="end" fill="#333" font-weight="normal" stroke="#333" stroke-width="0.22">1</text>
<line x1="378.2" y1="264.6" x2="381.4" y2="264.6" stroke="#1c1c1c" stroke-width="1.1"/>
<text x="376.0" y="266.90000000000003" font-size="6.6" text-anchor="end" fill="#333" font-weight="normal" stroke="#333" stroke-width="0.22">0</text>
<line x1="378" y1="264.6" x2="499" y2="264.6" stroke="#1c1c1c" stroke-width="1.2"/>
<text x="355.4" y="220.8" font-size="6.9" text-anchor="middle" fill="#333" font-weight="normal" stroke="#333" stroke-width="0.22" textLength="62.2" lengthAdjust="spacingAndGlyphs" transform="rotate(-90 355.4 220.8)">Plasma FITC-dextran</text>
<text x="364.6" y="221.6" font-size="6.9" text-anchor="middle" fill="#333" font-weight="normal" stroke="#333" stroke-width="0.22" textLength="40.4" lengthAdjust="spacingAndGlyphs" transform="rotate(-90 364.6 221.6)">(foldchange)</text>
<rect x="398.6" y="215.0" width="32.5" height="49.60000000000002" fill="#E48A7C"/>
<rect x="449.1" y="237.1" width="32.7" height="27.50000000000003" fill="#8998BE"/>
<line x1="414.7" y1="264.6" x2="414.7" y2="267.4" stroke="#1c1c1c" stroke-width="1.0"/>
<text x="414.7" y="277.0" font-size="6.7" text-anchor="middle" fill="#333" font-weight="normal" stroke="#333" stroke-width="0.22" textLength="12.2" lengthAdjust="spacingAndGlyphs">PBS</text>
<line x1="465.3" y1="264.6" x2="465.3" y2="267.4" stroke="#1c1c1c" stroke-width="1.0"/>
<text x="465.3" y="277.0" font-size="6.7" text-anchor="middle" fill="#333" font-weight="normal" stroke="#333" stroke-width="0.22" textLength="48.7" lengthAdjust="spacingAndGlyphs">Lachnospiraceae</text>
<path d="M415 188.1 V184.4 H465.7 V188.1" fill="none" stroke="#2a2a2a" stroke-width="1.1"/>
<circle cx="440" cy="180.7" r="0.95" fill="#3a3a3a"/>
<line x1="414.6" y1="207.1" x2="414.6" y2="222.6" stroke="#B20F2E" stroke-width="0.9"/>
<line x1="406.35" y1="207.1" x2="422.85" y2="207.1" stroke="#B20F2E" stroke-width="0.9"/>
<line x1="406.35" y1="222.6" x2="422.85" y2="222.6" stroke="#B20F2E" stroke-width="0.9"/>
<circle cx="414.6" cy="193.7" r="1.85" fill="#B20F2E"/>
<circle cx="418.1" cy="208.6" r="1.85" fill="#B20F2E"/>
<circle cx="411.1" cy="211.2" r="1.85" fill="#B20F2E"/>
<circle cx="414.6" cy="221" r="1.85" fill="#B20F2E"/>
<circle cx="414.5" cy="239" r="1.85" fill="#B20F2E"/>
<line x1="465.3" y1="235.2" x2="465.3" y2="238.6" stroke="#1B3A6B" stroke-width="0.9"/>
<line x1="454.8" y1="235.2" x2="475.8" y2="235.2" stroke="#1B3A6B" stroke-width="0.9"/>
<line x1="454.8" y1="238.6" x2="475.8" y2="238.6" stroke="#1B3A6B" stroke-width="0.9"/>
<rect x="452.90000000000003" y="235.0" width="3.4" height="3.4" fill="#1B3A6B"/>
<rect x="459.7" y="232.10000000000002" width="3.4" height="3.4" fill="#1B3A6B"/>
<rect x="459.7" y="238.3" width="3.4" height="3.4" fill="#1B3A6B"/>
<rect x="466.3" y="235.0" width="3.4" height="3.4" fill="#1B3A6B"/>
<rect x="473.5" y="235.0" width="3.4" height="3.4" fill="#1B3A6B"/>
<rect x="459.7" y="235.10000000000002" width="3.4" height="3.4" fill="#1B3A6B"/></svg>
</body></html>
